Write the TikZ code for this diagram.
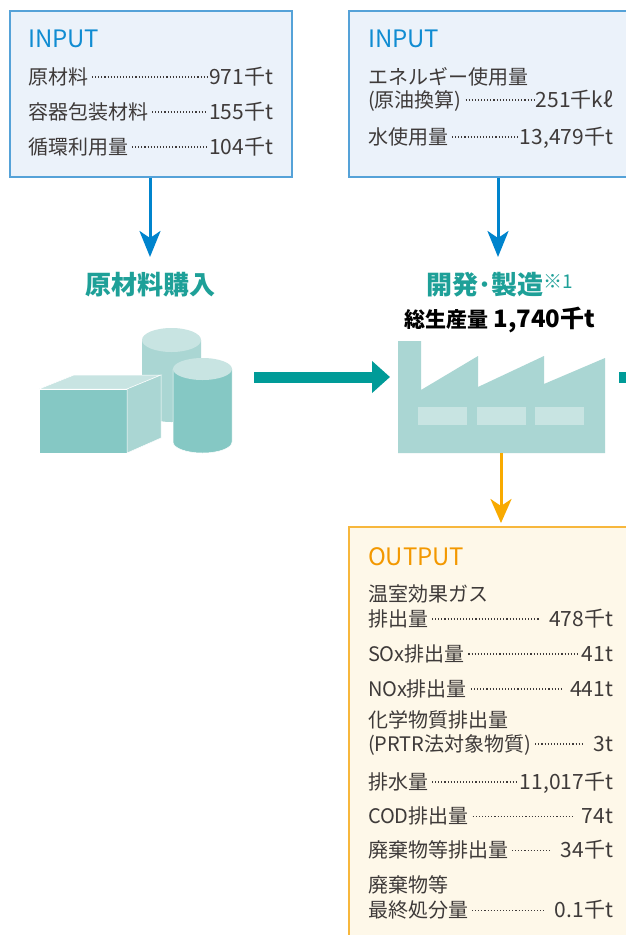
\documentclass[tikz,border=0pt]{standalone}
\usepackage{fontspec}
\setmainfont{Noto Sans CJK JP}
\usetikzlibrary{arrows.meta}

% one line of a data list: name, left x, right x, baseline y, label, value
\newcommand{\datarow}[6]{%
\node[rowtext,anchor=base west] (#1-l) at (#2,#4) {#5};
\node[rowtext,anchor=base east,font=\fontsize{21}{24}\selectfont] (#1-v) at (#3,#4) {#6};
\draw[leader] ([yshift=7pt]#1-l.base east) -- ([yshift=7pt]#1-v.base west);
}
\newcommand{\gap}{\hspace{7pt}}

\begin{document}
\begin{tikzpicture}[x=1pt,y=-1pt]
\definecolor{inBlue}{RGB}{16,140,210}
\definecolor{boxBlue}{RGB}{85,162,216}
\definecolor{boxBlueFill}{RGB}{235,242,250}
\definecolor{arrowBlue}{RGB}{0,132,205}
\definecolor{tealText}{RGB}{30,160,152}
\definecolor{tealArrow}{RGB}{0,155,152}
\definecolor{tealDark}{RGB}{133,200,196}
\definecolor{tealMid}{RGB}{170,214,211}
\definecolor{tealLight}{RGB}{200,228,226}
\definecolor{orangeArrow}{RGB}{248,170,0}
\definecolor{outText}{RGB}{243,152,0}
\definecolor{outBorder}{RGB}{247,183,60}
\definecolor{outFill}{RGB}{254,248,233}
\definecolor{textGray}{RGB}{62,58,57}
\tikzset{
  rowtext/.style={text=textGray,inner sep=0pt,outer sep=0pt,font=\fontsize{20}{24}\selectfont},
  leader/.style={draw=textGray,line width=1.1pt,dash pattern=on 1.1pt off 2pt,shorten <=4pt,shorten >=2pt},
  head/.style={inner sep=0pt,outer sep=0pt,anchor=base west,font=\fontsize{24}{28}\selectfont},
  inbox/.style={draw=boxBlue,fill=boxBlueFill,line width=1.2pt,inner sep=0pt},
  outbox/.style={draw=outBorder,fill=outFill,line width=1.6pt,inner sep=0pt},
  title/.style={text=tealText,inner sep=0pt,anchor=base,font=\fontsize{26}{30}\selectfont\bfseries},
  inarrow/.style={draw=arrowBlue,line width=3pt,-{Stealth[length=26pt,width=21pt,inset=7pt]}},
  outarrow/.style={draw=orangeArrow,line width=3pt,-{Stealth[length=24pt,width=21pt,inset=7pt]}},
  flowarrow/.style={draw=tealArrow,line width=11pt,-{Triangle[length=18pt,width=31pt]}},
  edge/.style={draw=white,line width=0.5pt}
}
\path[use as bounding box,fill=white] (0,0) rectangle (625,935);

% input boxes
\node[inbox,minimum width=282pt,minimum height=166pt] (inL) at (151,94) {};
\node[inbox,minimum width=291pt,minimum height=166pt] (inR) at (494.5,94) {};

\node[head,text=inBlue] (inL-h) at (28,47) {INPUT};
\datarow{raw}{28}{273}{84}{原材料\gap}{971千t}
\datarow{pack}{28}{273}{119}{容器包装材料}{155千t}
\datarow{recy}{28}{273}{154}{循環利用量}{104千t}

\node[head,text=inBlue] (inR-h) at (368,47) {INPUT};
\node[rowtext,anchor=base west] (energy) at (368,84) {エネルギー使用量};
\datarow{oil}{368}{613}{107}{(原油換算)}{251千kℓ}
\datarow{water}{368}{613}{144}{水使用量}{13,479千t}

% stage titles
\node[title] (buy) at (150,294) {原材料購入};
\node[title] (make) at (500,294) {開発･製造\raisebox{6pt}{\fontsize{19}{19}\selectfont\mdseries ※1}};
\node[inner sep=0pt,anchor=base,text=black] (total) at (500,327)
  {\bfseries\fontsize{21}{21}\selectfont 総生産量 \fontsize{24}{24}\selectfont 1,740千t};

\coordinate (buyTip) at (150,257);
\coordinate (makeTip) at (498,257);
\draw[inarrow] (inL.south -| buyTip) -- (buyTip);
\draw[inarrow] (inR.south -| makeTip) -- (makeTip);

% raw materials: tank, crate, drum
\fill[tealMid] (142,340) -- (142,410) arc[start angle=180,end angle=360,x radius=29.5,y radius=-12] -- (201,340) -- cycle;
\fill[tealLight] (171.5,340) ellipse[x radius=29.5,y radius=12];
\path[fill=tealLight,edge] (39,389) -- (74,375) -- (161,375) -- (127,389) -- cycle;
\path[fill=tealDark,edge] (39,389) rectangle (127,453);
\path[fill=tealMid,edge] (127,389) -- (161,375) -- (161,438) -- (127,453) -- cycle;
\path[fill=tealDark,edge] (173,369) -- (173,442) arc[start angle=180,end angle=360,x radius=29.5,y radius=-11] -- (232,369) -- cycle;
\fill[tealLight] (202.5,369) ellipse[x radius=29.5,y radius=11];

\coordinate (matR) at (254,377);
\coordinate (facL) at (390,377);
\draw[flowarrow] (matR) -- (facL);

% factory
\fill[tealMid] (398,453) -- (398,341) -- (421,341) -- (421,390) -- (478,356) -- (478,387)
  -- (544,356) -- (544,384) -- (605,358) -- (605,453) -- cycle;
\fill[tealLight] (418,407) rectangle (467,425);
\fill[tealLight] (477,407) rectangle (526,425);
\fill[tealLight] (535,407) rectangle (584,425);
\fill[tealArrow] (619,372) rectangle (630,383);

% output box
\node[outbox,minimum width=291pt,minimum height=433pt] (out) at (494.5,743.5) {};
\coordinate (facB) at (501,453);
\coordinate (outTip) at (501,523);
\draw[outarrow] (facB) -- (outTip);

\node[head,text=outText] (out-h) at (368,565) {OUTPUT};
\node[rowtext,anchor=base west] (ghg) at (368,601) {温室効果ガス};
\datarow{ghgv}{368}{613}{626}{排出量}{\gap 478千t}
\datarow{sox}{368}{613}{661}{SOx排出量}{41t}
\datarow{nox}{368}{613}{696}{NOx排出量}{\gap 441t}
\node[rowtext,anchor=base west] (chem) at (368,727) {化学物質排出量};
\datarow{prtr}{368}{613}{751}{(PRTR法対象物質)}{\gap 3t}
\datarow{drain}{368}{613}{789}{排水量}{11,017千t}
\datarow{cod}{368}{613}{823.5}{COD排出量}{\gap 74t}
\datarow{waste}{368}{613}{857.5}{廃棄物等排出量}{\gap 34千t}
\node[rowtext,anchor=base west] (landf) at (368,892) {廃棄物等};
\datarow{final}{368}{613}{917.5}{最終処分量}{\gap 0.1千t}
\end{tikzpicture}
\end{document}
